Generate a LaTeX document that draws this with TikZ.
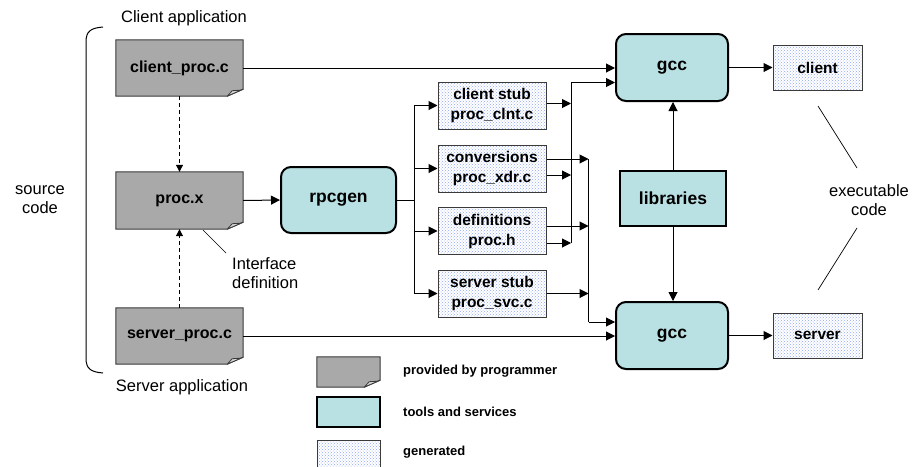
\documentclass[tikz,border=0pt]{standalone}
\usepackage{fontspec}
\setmainfont{Liberation Sans}
\usetikzlibrary{arrows.meta,patterns,calc}
\pgfdeclarelayer{bg}
\pgfsetlayers{bg,main}

\definecolor{filegray}{HTML}{A9A9A9}
\definecolor{flapgray}{HTML}{D6D6D6}
\definecolor{tealfill}{HTML}{B9E0E3}
\definecolor{edgegray}{HTML}{3A3A3A}
\definecolor{dotblue}{HTML}{8FA8F0}

% source file with a folded bottom-right corner, drawn around a node
\newcommand\fileshape[1]{%
  \filldraw[fill=filegray,draw=edgegray,line width=1pt]
    (#1.north west) -- (#1.north east) -- ([yshift=7pt]#1.south east)
    -- ([xshift=-16pt]#1.south east) -- (#1.south west) -- cycle;
  \filldraw[fill=flapgray,draw=edgegray,line width=0.8pt,line join=round]
    ([xshift=-16pt]#1.south east) -- ([xshift=-11pt,yshift=5.5pt]#1.south east)
    -- ([xshift=-3pt,yshift=6pt]#1.south east) -- ([yshift=7pt]#1.south east) -- cycle;
}

\begin{document}
\begin{tikzpicture}[x=1pt,y=-1pt,
  lbl/.style={font=\fontsize{16.5}{19}\selectfont, align=center, inner sep=0pt},
  filebox/.style={minimum width=127pt, minimum height=56pt, inner sep=0pt,
    font=\fontsize{16}{19}\selectfont\bfseries},
  toolbox/.style={draw=black, line width=2pt, fill=tealfill, rounded corners=10pt,
    minimum width=112pt, minimum height=67pt, inner sep=0pt,
    font=\fontsize{17.5}{20}\selectfont\bfseries},
  genbox/.style={draw=edgegray, line width=1pt, preaction={fill=white},
    pattern=crosshatch dots, pattern color=dotblue,
    minimum width=108pt, minimum height=47pt, inner sep=0pt, align=center,
    font=\fontsize{15.5}{20}\selectfont\bfseries},
  arr/.style={-{Triangle[length=9pt,width=9pt]}, line width=1pt},
  darr/.style={-{Triangle[length=7pt,width=7pt]}, line width=1pt, dash pattern=on 4pt off 3pt},
  wire/.style={line width=1pt},
  leader/.style={line width=0.7pt},
  legtext/.style={anchor=west, inner sep=0pt, font=\fontsize{13}{15}\selectfont\bfseries}
]
\useasboundingbox (0,0) rectangle (913,466);
\clip (0,0) rectangle (913,466);

% source files
\node[filebox] (cproc) at (179.5,68) {client\_proc.c};
\node[filebox,minimum height=57pt] (procx) at (179.5,200.5) {proc.x};
\node[filebox] (sproc) at (179.5,336) {server\_proc.c};

% tools
\node[toolbox,minimum width=115pt,minimum height=66pt] (rpcgen) at (338.5,200) {rpcgen};
\node[toolbox] (gccc) at (672,67.5) {gcc};
\node[toolbox] (gccs) at (672,335.5) {gcc};
\node[toolbox,sharp corners,minimum width=106pt,minimum height=55pt] (libs) at (673,198.5) {libraries};

% generated files
\node[genbox] (cstub) at (492,105.5) {client stub\\proc\_clnt.c};
\node[genbox] (conv) at (492,168.5) {conversions\\proc\_xdr.c};
\node[genbox] (defs) at (492,231) {definitions\\proc.h};
\node[genbox] (sstub) at (492,293.5) {server stub\\proc\_svc.c};
\node[genbox,minimum width=89pt,minimum height=45pt] (client) at (817.5,67.5) {client};
\node[genbox,minimum width=89pt,minimum height=45pt] (server) at (817.5,335.5) {server};

% labels
\node[lbl] (capp) at (184,18) {Client application};
\node[lbl] (sapp) at (182,387) {Server application};
\node[lbl] (src) at (40,200) {source\\code};
\node[lbl,anchor=west,align=left] (ifd) at (232,273.5) {Interface\\definition};
\node[lbl] (exe) at (869,200) {executable\\code};

% brace around the source code
\draw[line width=1pt] (103,27) .. controls (91,28) and (86,31) .. (86,42) -- (86,358)
  .. controls (86,369) and (91,372) .. (103,373);

% dependencies of the interface file
\draw[darr] (cproc.south) -- (procx.north);
\draw[darr] (sproc.north) -- (procx.south);
\draw[arr] (procx.east) -- (rpcgen.west);

% rpcgen output bus
\coordinate (bus) at (414,200);
\draw[wire] (rpcgen.east) -- (bus);
\draw[wire] (bus |- cstub.west) -- (bus |- sstub.west);
\foreach \n in {cstub,conv,defs,sstub}
  \draw[arr] (bus |- \n.west) -- (\n.west);

% client side collector
\coordinate (colAtop) at (571,82.5);
\coordinate (colAbot) at (571,243);
\draw[wire] (colAbot) -- (colAtop);
\draw[arr] (colAtop) -- (colAtop -| gccc.west);
\draw[arr] ([yshift=2pt]cstub.east) -- ([yshift=2pt]cstub.east -| colAtop);
\draw[arr] ([yshift=-6.5pt]conv.east) -- ([yshift=-6.5pt]conv.east -| colAtop);
\draw[arr] ([yshift=-12pt]defs.east) -- ([yshift=-12pt]defs.east -| colAtop);

% server side collector
\coordinate (colBtop) at (588.5,159);
\coordinate (colBbot) at (588.5,322);
\draw[wire] (colBtop) -- (colBbot);
\draw[arr] (colBbot) -- (colBbot -| gccs.west);
\draw[arr] ([yshift=9.5pt]conv.east) -- ([yshift=9.5pt]conv.east -| colBtop);
\draw[arr] ([yshift=5pt]defs.east) -- ([yshift=5pt]defs.east -| colBtop);
\draw[arr] (sstub.east) -- (sstub.east -| colBtop);

% compilation
\draw[arr] (cproc.east) -- (cproc.east -| gccc.west);
\draw[arr] (sproc.east) -- (sproc.east -| gccs.west);
\draw[arr] (libs.north) -- (libs.north |- gccc.south);
\draw[arr] (libs.south) -- (libs.south |- gccs.north);
\draw[arr] (gccc.east) -- (client.west);
\draw[arr] (gccs.east) -- (server.west);

% leader lines
\coordinate (if1) at (203,230);
\coordinate (if2) at (226,253);
\draw[leader] (if1) -- (if2);
\coordinate (ex1a) at (818,106);
\coordinate (ex1b) at (857,168);
\coordinate (ex2a) at (857,228);
\coordinate (ex2b) at (818,290);
\draw[leader] (ex1a) -- (ex1b);
\draw[leader] (ex2a) -- (ex2b);

% legend
\node[minimum width=63pt,minimum height=30pt,inner sep=0pt] (legfile) at (348.5,372) {};
\node[draw=black,line width=2pt,fill=tealfill,minimum width=63pt,minimum height=30pt] (legtool) at (348.5,412) {};
\node[genbox,minimum width=63pt,minimum height=36pt] (leggen) at (348.5,458) {};
\node[legtext] (t1) at (403,371) {provided by programmer};
\node[legtext] (t2) at (403,412) {tools and services};
\node[legtext] (t3) at (403,452) {generated};

\begin{pgfonlayer}{bg}
  \fill[white] (0,0) rectangle (913,466);
  \foreach \n in {cproc,procx,sproc,legfile} {\fileshape{\n}}
\end{pgfonlayer}
\end{tikzpicture}
\end{document}
